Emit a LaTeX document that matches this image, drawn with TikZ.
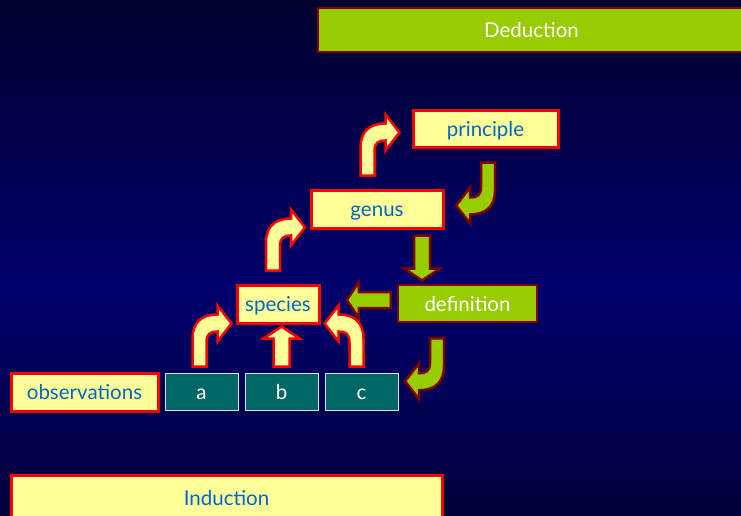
\documentclass[tikz,border=0pt]{standalone}
\usepackage{fontspec}
\setmainfont{Lato}
\usetikzlibrary{calc}

\definecolor{bgtop}{RGB}{0,0,45}
\definecolor{bgmid}{RGB}{0,0,108}
\definecolor{bgbot}{RGB}{0,0,58}
\definecolor{paleyellow}{RGB}{255,255,153}
\definecolor{limegreen}{RGB}{153,204,0}
\definecolor{darkred}{RGB}{128,0,0}
\definecolor{textblue}{RGB}{0,102,204}
\definecolor{tealbox}{RGB}{0,102,102}

\tikzstyle{yellowbox}=[draw=red, fill=paleyellow, line width=3, text=textblue, inner sep=0, text height=18pt, text depth=2.5pt]
\tikzstyle{greenbox}=[draw=darkred, fill=limegreen, line width=2.5, text=white, inner sep=0, text height=18pt, text depth=2.5pt]
\tikzstyle{tealnode}=[draw=white!75!gray, fill=tealbox, line width=1, text=white, inner sep=0, text height=18pt, text depth=2.5pt]
\tikzstyle{yellowarrow}=[draw=red, fill=paleyellow, line width=2.5, line join=miter]
\tikzstyle{greenarrow}=[draw=darkred, fill=limegreen, line width=2.5, line join=miter]

% bent block arrow: tail at origin, goes up then turns right
\newcommand{\bentarrow}[1]{
  \draw[#1] (-7,0) -- (-7,-28) .. controls (-7,-44) and (2,-52) .. (18,-52)
    -- (18,-61) -- (32,-43) -- (18,-25) -- (18,-35)
    .. controls (11,-35) and (7,-33) .. (7,-24) -- (7,0) -- cycle;
}
% straight block arrow: tail at origin, points up, shaft length #2
\newcommand{\straightarrow}[2]{
  \draw[#1] (-8,0) -- (-8,-#2) -- (-18,-#2) -- (0,-#2-12)
    -- (18,-#2) -- (8,-#2) -- (8,0) -- cycle;
}

\begin{document}
\begin{tikzpicture}[x=1pt, y=-1pt, font=\fontsize{20.5}{24}\selectfont]
  \useasboundingbox (0,0) rectangle (741,516);
  \shade[top color=bgtop, bottom color=bgmid] (0,0) rectangle (741,290.5);
  \shade[top color=bgmid, bottom color=bgbot] (0,290) rectangle (741,516);

  % boxes
  \node[greenbox, minimum width=427, minimum height=44] (deduction) at (531.5,30) {Deduction};
  \node[yellowbox, minimum width=145, minimum height=36] (principle) at (485.5,129) {principle};
  \node[yellowbox, minimum width=132, minimum height=38] (genus) at (377,209) {genus};
  \node[yellowbox, minimum width=82, minimum height=38] (species) at (278,304) {species};
  \node[greenbox, minimum width=139, minimum height=37] (definition) at (467.5,303.5) {definition};
  \node[yellowbox, minimum width=147, minimum height=38] (observations) at (84.5,392) {observations};
  \node[tealnode, minimum width=73, minimum height=37] (a) at (201.5,391.5) {a};
  \node[tealnode, minimum width=73, minimum height=37] (b) at (281.5,391.5) {b};
  \node[tealnode, minimum width=73, minimum height=37] (c) at (361.5,391.5) {c};
  \node[yellowbox, minimum width=431, minimum height=45] (induction) at (226.5,497.5) {Induction};

  % induction arrows
  \bentarrow{yellowarrow, shift={($(a.north)+(-2,-6)$)}}
  \straightarrow{yellowarrow, shift={($(b.north)+(0,-6)$)}}{28}
  \bentarrow{yellowarrow, shift={($(c.north)+(-5,-6)$)}, xscale=-1}
  \bentarrow{yellowarrow, shift={($(species.north)+(-5,-13)$)}}
  \bentarrow{yellowarrow, shift={($(genus.north)+(-9.5,-13)$)}}

  % deduction arrows
  \bentarrow{greenarrow, shift={($(principle.south)+(2.5,14)$)}, rotate=180}
  \straightarrow{greenarrow, shift={($(genus.south east)+(-22.5,6)$)}, rotate=180}{33}
  \straightarrow{greenarrow, shift={($(definition.west)+(-6,-3.5)$)}, rotate=90}{32}
  \bentarrow{greenarrow, shift={($(definition.south)+(-30.5,15)$)}, rotate=180}
\end{tikzpicture}
\end{document}
